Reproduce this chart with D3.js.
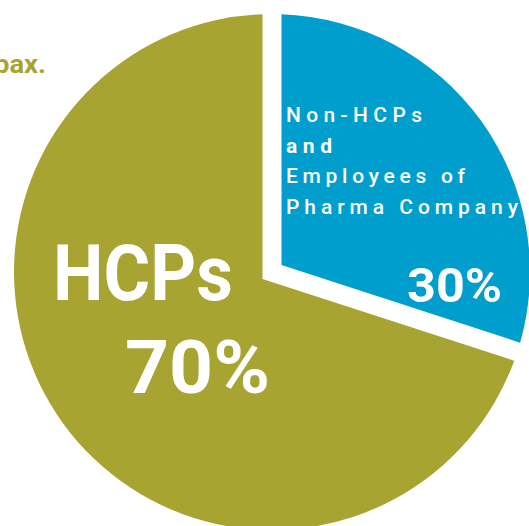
<!DOCTYPE html>
<html>
<head>
<meta charset="utf-8">
<script src="https://cdn.jsdelivr.net/npm/d3@7"></script>
<style>
  body { margin: 0; background: #fff; }
  text { font-family: Roboto, "DejaVu Sans", sans-serif; }
</style>
</head>
<body>
<script>
// data
var categories = ["Non-HCPs and Employees of Pharma Company", "HCPs"];
var values = [30, 70];
var percentLabels = ["30%", "70%"];
var nameLines = [["Non-HCPs", "and", "Employees of", "Pharma Company"], ["HCPs"]];
var captionTail = "pax.";

var width = 529,
    height = 526,
    cx = 272,
    cy = 272,
    radius = 258,
    gap = 19
;

var colors = ["#009ecd", "#a8a432"];

var svg = d3.select("body").append("svg")
    .attr("width", width)
    .attr("height", height)
;

// cut off caption at top left
svg.append("text")
    .attr("x", 46)
    .attr("y", 73)
    .attr("text-anchor", "end")
    .attr("font-size", 25)
    .attr("font-weight", "bold")
    .attr("fill", colors[1])
    .attr("textLength", 52)
    .attr("lengthAdjust", "spacingAndGlyphs")
    .text(captionTail)
;

var pie = d3.pie()
    .sort(null)
    .value(d => d)
;

var arcs = pie(values);

// slice with parallel white gap along both edges
function slicePath(d) {
    var half = (d.endAngle - d.startAngle) / 2,
        mid = d.startAngle + half,
        apexDist = (gap / 2) / Math.sin(half),
        pad = Math.asin((gap / 2) / radius),
        p = d3.path()
    ;
    p.moveTo(apexDist * Math.sin(mid), -apexDist * Math.cos(mid));
    p.arc(0, 0, radius, d.startAngle + pad - Math.PI / 2, d.endAngle - pad - Math.PI / 2);
    p.closePath();
    return p.toString();
}

var g = svg.append("g")
    .attr("transform", `translate(${cx},${cy})`)
;

g.selectAll("path")
    .data(arcs)
    .enter().append("path")
    .attr("d", slicePath)
    .attr("fill", (d, i) => colors[i])
;

// Non-HCPs label block
var lineLengths = [136, 46, 179, 232];
nameLines[0].forEach(function(s, i) {
    g.append("text")
        .attr("x", 14)
        .attr("y", -150 + i * 30.5)
        .attr("font-size", 21)
        .attr("font-weight", i == 1 ? "bold" : 500)
        .attr("fill", "#fff")
        .attr("textLength", lineLengths[i])
        .attr("lengthAdjust", "spacing")
        .text(s)
    ;
});

g.append("text")
    .attr("x", 135)
    .attr("y", 30)
    .attr("font-size", 49)
    .attr("font-weight", "bold")
    .attr("fill", "#fff")
    .attr("textLength", 95)
    .attr("lengthAdjust", "spacingAndGlyphs")
    .text(percentLabels[0])
;

// HCPs label
g.append("text")
    .attr("x", -219)
    .attr("y", 28)
    .attr("font-size", 78)
    .attr("font-weight", "bold")
    .attr("fill", "#fff")
    .attr("textLength", 180)
    .attr("lengthAdjust", "spacingAndGlyphs")
    .text(nameLines[1][0])
;

g.append("text")
    .attr("x", -147)
    .attr("y", 121)
    .attr("font-size", 75)
    .attr("font-weight", "bold")
    .attr("fill", "#fff")
    .attr("textLength", 145)
    .attr("lengthAdjust", "spacingAndGlyphs")
    .text(percentLabels[1])
;
</script>
</body>
</html>
